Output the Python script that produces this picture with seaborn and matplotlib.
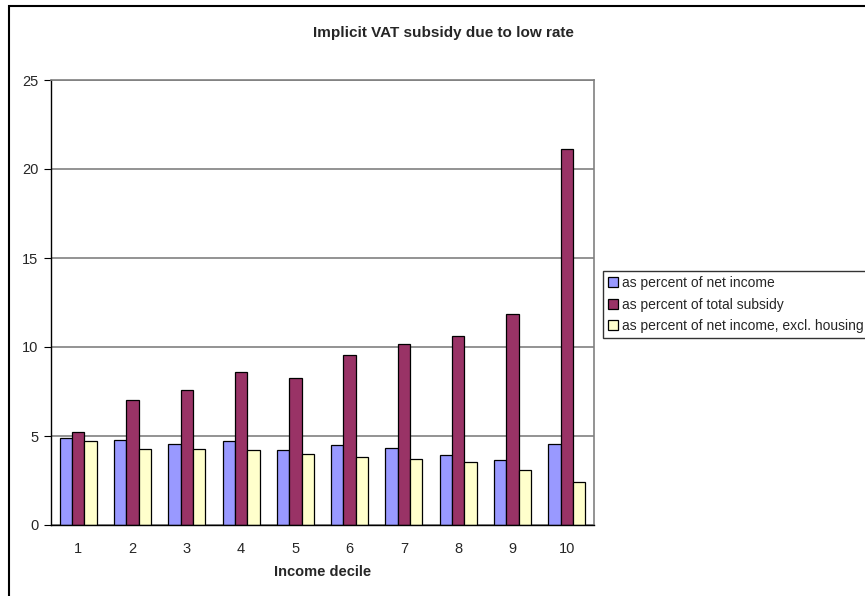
import matplotlib
matplotlib.use("Agg")
import matplotlib.pyplot as plt
from matplotlib.patches import Rectangle
import numpy as np
import pandas as pd
import seaborn as sns

# data
deciles = ["1", "2", "3", "4", "5", "6", "7", "8", "9", "10"]
pct_net_income = [4.86, 4.80, 4.54, 4.73, 4.21, 4.49, 4.34, 3.91, 3.67, 4.57]
pct_total_subsidy = [5.23, 7.05, 7.59, 8.62, 8.28, 9.55, 10.15, 10.60, 11.83, 21.12]
pct_net_income_excl = [4.71, 4.28, 4.28, 4.24, 3.98, 3.84, 3.71, 3.52, 3.07, 2.40]

series_names = [
    "as percent of net income",
    "as percent of total subsidy",
    "as percent of net income, excl. housing",
]
colors = ["#9999FF", "#993366", "#FFFFCC"]

df = pd.DataFrame({
    "decile": deciles * 3,
    "value": pct_net_income + pct_total_subsidy + pct_net_income_excl,
    "series": [series_names[0]] * 10 + [series_names[1]] * 10 + [series_names[2]] * 10,
})

sns.set_style("white")
plt.rcParams["font.family"] = ["Liberation Sans", "DejaVu Sans"]

W, H = 865, 596
fig = plt.figure(figsize=(W / 100, H / 100), dpi=100)
ax = fig.add_axes([51 / W, 1 - 525 / H, (594 - 51) / W, (525 - 80) / H])

sns.barplot(
    data=df, x="decile", y="value", hue="series", order=deciles,
    hue_order=series_names, palette=colors, width=0.68, gap=0,
    edgecolor="black", linewidth=0.9, saturation=1, ax=ax, legend=True,
)

ax.set_ylim(0, 25)
ax.set_xlim(-0.5, 9.5)
ax.set_yticks(np.arange(0, 26, 5))
ax.yaxis.grid(True, color="#808080", linewidth=1.2)
ax.set_axisbelow(True)

for side in ["top", "right"]:
    ax.spines[side].set_color("#808080")
    ax.spines[side].set_linewidth(1.2)
for side in ["left", "bottom"]:
    ax.spines[side].set_color("black")
    ax.spines[side].set_linewidth(1)

ax.set_xticks(np.arange(-0.5, 10, 1), minor=True)
ax.tick_params(axis="x", which="major", length=0, pad=12, labelsize=10.5)
ax.tick_params(axis="x", which="minor", length=5, direction="out", color="black")
ax.tick_params(axis="y", length=5, direction="out", color="black", labelsize=10.5, pad=4)
ax.tick_params(left=True, bottom=True)

ax.set_xlabel("Income decile", fontsize=10.5, fontweight="bold", labelpad=7)
ax.set_ylabel("")

fig.text(443 / W, 1 - 33 / H, "Implicit VAT subsidy due to low rate",
         ha="center", va="center", fontsize=11, fontweight="bold")

handles, labels = ax.get_legend_handles_labels()
ax.legend_.remove()
leg = fig.legend(
    handles, labels, loc="upper left",
    bbox_to_anchor=(603 / W, 1 - 271 / H), bbox_transform=fig.transFigure,
    fontsize=10, frameon=True, fancybox=False, edgecolor="black",
    handlelength=0.7, handleheight=0.7, handletextpad=0.3,
    borderpad=0.35, labelspacing=0.55, borderaxespad=0,
)
leg.get_frame().set_linewidth(1)

# outer chart frame
fig.patches.append(Rectangle((9 / W, -0.1), 1.2, 1.1 - 6 / H,
                             transform=fig.transFigure, fill=False,
                             edgecolor="black", linewidth=1.5))

fig.savefig("out.png", dpi=100)
